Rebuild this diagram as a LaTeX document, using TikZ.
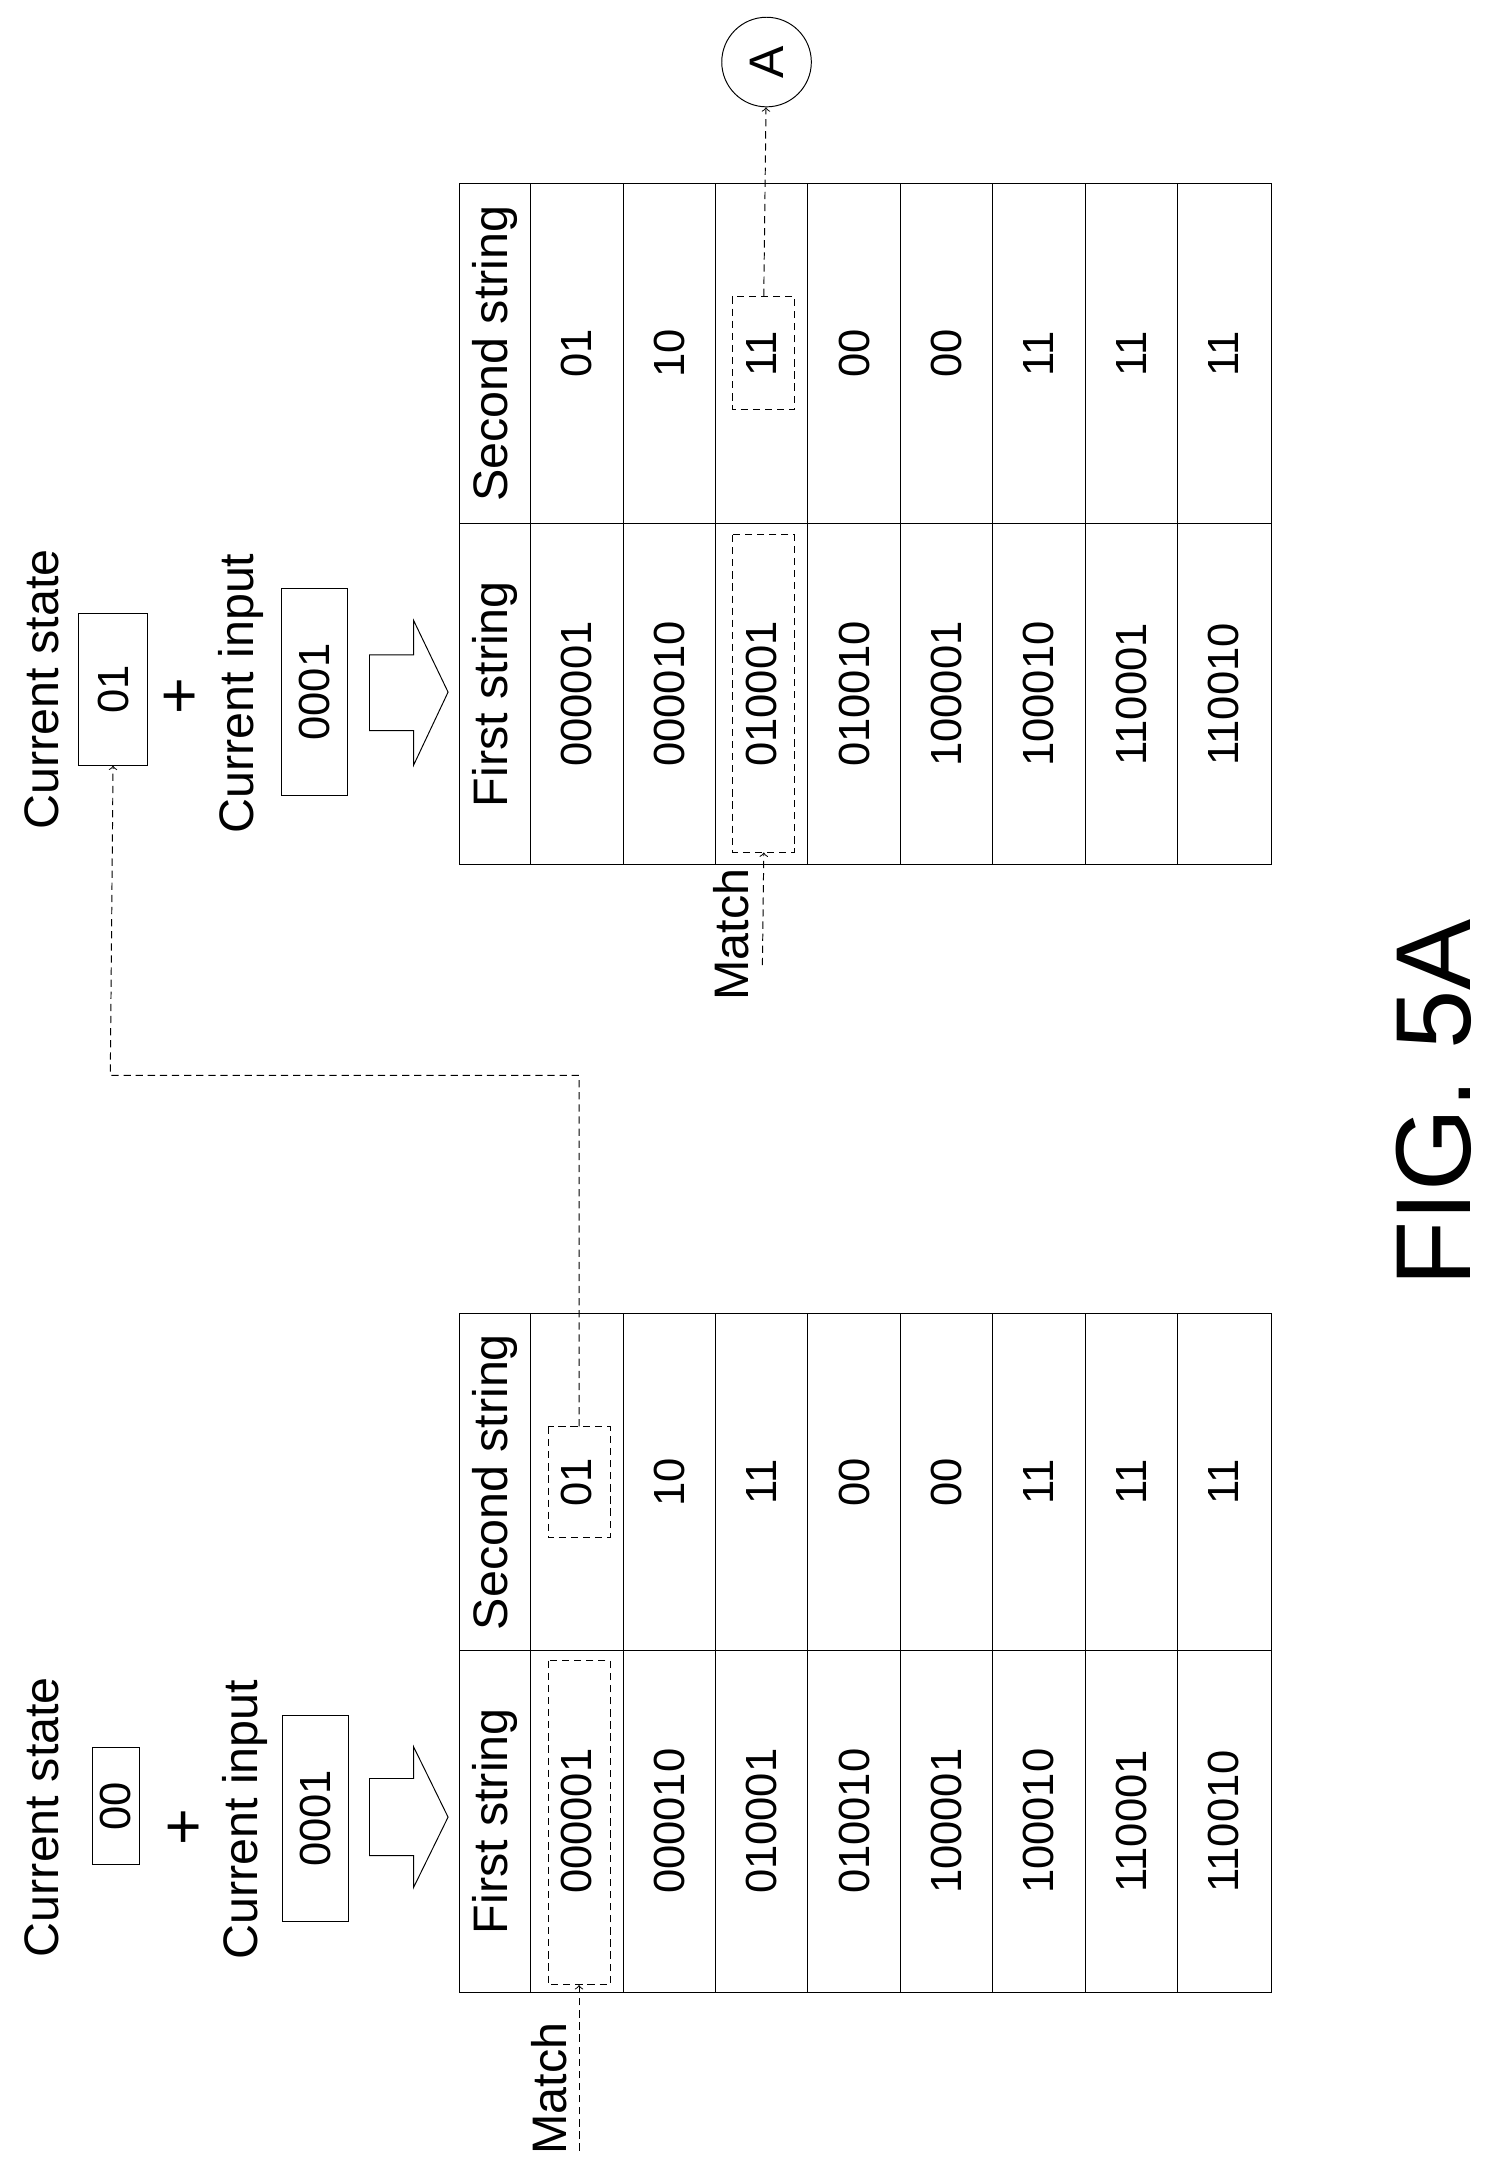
\documentclass[tikz,border=0pt]{standalone}
\usepackage{fontspec}
\setmainfont{Liberation Sans}
\usetikzlibrary{positioning}
\begin{document}
\begin{tikzpicture}[x=0.02cm, y=-0.02cm, >=to,
    lbl/.style={rotate=90, font=\fontsize{20}{22}\selectfont, inner sep=0pt},
    val/.style={rotate=90, font=\fontsize{18}{20}\selectfont, inner sep=0pt},
    solidbox/.style={draw, thin, rotate=90, font=\fontsize{18}{20}\selectfont},
    hibox/.style={draw, densely dashed, thin, rotate=90, inner sep=0pt},
    link/.style={densely dashed, thin, ->}]
\useasboundingbox (0,0) rectangle (1080,1566);

% two string tables
\foreach \tb/\yt/\ys/\yb in {L/953/1197/1445, U/133/380/627}{
  \draw[thin] (333,\yt) rectangle (922,\yb);
  \draw[thin] (333,\ys) -- (922,\ys);
  \foreach \i in {1,...,8}
    \draw[thin] ({385+67*(\i-1)},\yt) -- ({385+67*(\i-1)},\yb);
  \node[lbl] (\tb-fh) at (359,{(\ys+\yb)/2}) {First string};
  \node[lbl] (\tb-sh) at (359,{(\yt+\ys)/2}) {Second string};
  \foreach \f/\s [count=\i] in {000001/01,000010/10,010001/11,010010/00,100001/00,100010/11,110001/11,110010/11}{
    \node[val] (\tb-f\i) at ({418.5+67*(\i-1)},{(\ys+\yb)/2}) {\f};
    \node[val] (\tb-s\i) at ({418.5+67*(\i-1)},{(\yt+\ys)/2}) {\s};
  }
}

% inputs, lower
\node[lbl] (csL) at (30,1318) {Current state};
\node[solidbox, minimum width=1.7cm, minimum height=0.64cm] (stL) at (84,1310) {00};
\node[lbl, font=\fontsize{26}{26}\selectfont\addfontfeatures{FakeBold=0}] (plL) at (135,1325) {+};
\node[lbl] (ciL) at (178,1320) {Current input};
\node[solidbox, minimum width=3.0cm, minimum height=0.96cm] (inL) at (229,1319) {0001};
\draw[thin] (268,1290) -- (300,1290) -- (300,1267) -- (325,1318) -- (300,1369) -- (300,1346) -- (268,1346) -- cycle;

% inputs, upper
\node[lbl] (csU) at (30,500) {Current state};
\node[solidbox, minimum width=2.2cm, minimum height=1.0cm] (stU) at (82,500) {01};
\node[lbl, font=\fontsize{26}{26}\selectfont] (plU) at (132,505) {+};
\node[lbl] (ciU) at (175,503) {Current input};
\node[solidbox, minimum width=3.0cm, minimum height=0.96cm] (inU) at (228,502) {0001};
\draw[thin] (268,475) -- (300,475) -- (300,450) -- (325,502) -- (300,555) -- (300,530) -- (268,530) -- cycle;

% matches
\node[hibox, minimum width=4.7cm, minimum height=0.9cm] (hL1) at (420,1322) {};
\node[hibox, minimum width=1.6cm, minimum height=0.9cm] (hL2) at (420,1075) {};
\node[hibox, minimum width=4.6cm, minimum height=0.9cm] (hU1) at (554,503) {};
\node[hibox, minimum width=1.64cm, minimum height=0.9cm] (hU2) at (554,256) {};
\node[lbl] (mL) at (398,1515) {Match};
\node[lbl] (mU) at (530,678) {Match};
\coordinate (mLe) at (420,1560);
\coordinate (mUe) at (553,700);
\draw[link] (mLe) -- (hL1.west);
\draw[link] (mUe) -- (hU1.west);
\draw[link] (hL2.east) |- (80,780) -- (stU.west);
\node[draw, thin, circle, minimum size=1.3cm, inner sep=0pt, lbl] (A) at (556,45) {A};
\draw[link] (hU2.east) -- (A);

\node[rotate=90, font=\fontsize{44}{44}\selectfont] (fig) at (1040,800) {FIG. 5A};
\end{tikzpicture}
\end{document}
